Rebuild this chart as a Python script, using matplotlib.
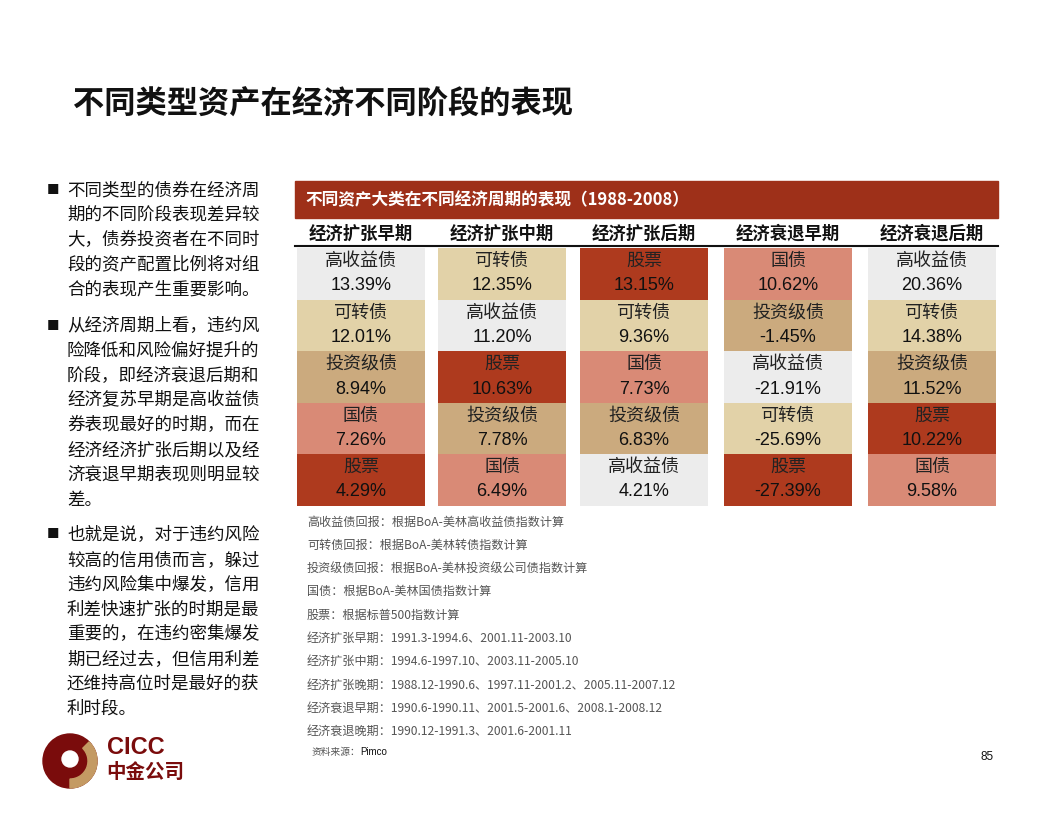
import matplotlib
matplotlib.use("Agg")
import matplotlib.pyplot as plt
from matplotlib.patches import Rectangle, Wedge, Circle

FONT = "Noto Sans CJK SC"
plt.rcParams["font.family"] = FONT

periods = ["经济扩张早期", "经济扩张中期", "经济扩张后期", "经济衰退早期", "经济衰退后期"]
assets = [
    ["高收益债", "可转债", "投资级债", "国债", "股票"],
    ["可转债", "高收益债", "股票", "投资级债", "国债"],
    ["股票", "可转债", "国债", "投资级债", "高收益债"],
    ["国债", "投资级债", "高收益债", "可转债", "股票"],
    ["高收益债", "可转债", "投资级债", "股票", "国债"],
]
returns = [
    [13.39, 12.01, 8.94, 7.26, 4.29],
    [12.35, 11.20, 10.63, 7.78, 6.49],
    [13.15, 9.36, 7.73, 6.83, 4.21],
    [10.62, -1.45, -21.91, -25.69, -27.39],
    [20.36, 14.38, 11.52, 10.22, 9.58],
]
asset_colors = {"高收益债": "#ECECEC", "可转债": "#E2D2A8", "投资级债": "#CBAA7E",
                "国债": "#D98A76", "股票": "#AE3A1E"}

notes = [
    "高收益债回报：根据BoA-美林高收益债指数计算",
    "可转债回报：根据BoA-美林转债指数计算",
    "投资级债回报：根据BoA-美林投资级公司债指数计算",
    "国债：根据BoA-美林国债指数计算",
    "股票：根据标普500指数计算",
    "经济扩张早期：1991.3-1994.6、2001.11-2003.10",
    "经济扩张中期：1994.6-1997.10、2003.11-2005.10",
    "经济扩张晚期：1988.12-1990.6、1997.11-2001.2、2005.11-2007.12",
    "经济衰退早期：1990.6-1990.11、2001.5-2001.6、2008.1-2008.12",
    "经济衰退晚期：1990.12-1991.3、2001.6-2001.11",
]
bullets = [
    ["不同类型的债券在经济周", "期的不同阶段表现差异较", "大，债券投资者在不同时", "段的资产配置比例将对组", "合的表现产生重要影响。"],
    ["从经济周期上看，违约风", "险降低和风险偏好提升的", "阶段，即经济衰退后期和", "经济复苏早期是高收益债", "券表现最好的时期，而在",
     "经济经济扩张后期以及经", "济衰退早期表现则明显较", "差。"],
    ["也就是说，对于违约风险", "较高的信用债而言，躲过", "违约风险集中爆发，信用", "利差快速扩张的时期是最", "重要的，在违约密集爆发",
     "期已经过去，但信用利差", "还维持高位时是最好的获", "利时段。"],
]

fig = plt.figure(figsize=(10.56, 8.16), dpi=100)
ax = fig.add_axes([0, 0, 1, 1])
ax.set_xlim(0, 1056)
ax.set_ylim(816, 0)
ax.axis("off")

ax.text(73, 105, "不同类型资产在经济不同阶段的表现", fontsize=22.5, fontweight="bold", va="center", color="#111")

# bullets
bullet_y = [190, 326, 535]
for by, lines in zip(bullet_y, bullets):
    ax.text(47, by, "■", fontsize=9, va="center", color="#111")
    for i, ln in enumerate(lines):
        ax.text(67, by + i * 24.8, ln, fontsize=12.6, va="center", color="#111")

# title bar
ax.add_patch(Rectangle((295, 181), 703, 37, color="#9E3019"))
ax.text(305, 200, "不同资产大类在不同经济周期的表现（1988-2008）", fontsize=12,
        fontweight="bold", color="white", va="center")

col_x = [297, 438, 580, 724, 868]
col_w = 128
row_y0 = 248
row_h = 51.5
for c, (px, per) in enumerate(zip(col_x, periods)):
    ax.text(px + col_w / 2, 234, per, fontsize=12.5, fontweight="bold", ha="center", va="center", color="#111")
    for r in range(5):
        y = row_y0 + r * row_h
        a = assets[c][r]
        ax.add_patch(Rectangle((px, y), col_w, row_h, color=asset_colors[a], lw=0))
        ax.text(px + col_w / 2, y + 13, a, fontsize=13, ha="center", va="center", color="#222")
        ax.text(px + col_w / 2, y + 38, f"{returns[c][r]:.2f}%", fontsize=13, ha="center",
                va="center", color="#111", family="Liberation Sans")
ax.plot([295, 998], [246, 246], color="#111", lw=1.5)

for i, n in enumerate(notes):
    ax.text(307, 522 + i * 23.3, n, fontsize=8.7, va="center", color="#555")
ax.text(312, 752, "资料来源：", fontsize=7, va="center", color="#555")
ax.text(360, 752, "Pimco", fontsize=7, va="center", color="#111", family="Liberation Sans")
ax.text(987, 757, "85", fontsize=8.5, va="center", ha="center", color="#111", family="Liberation Sans")

# logo
ax.add_patch(Wedge((70, 761), 27, 0, 360, color="#7A0C0C"))
ax.add_patch(Wedge((70, 761), 27, -45, 90, width=9, color="#C49A63"))
ax.add_patch(Circle((70, 759), 8, color="white"))
ax.text(107, 748, "CICC", fontsize=17, fontweight="bold", va="center", color="#7A0C0C", family="Liberation Sans")
ax.text(106, 772, "中金公司", fontsize=14, fontweight="bold", va="center", color="#7A0C0C")

fig.savefig("out.png", dpi=100)
